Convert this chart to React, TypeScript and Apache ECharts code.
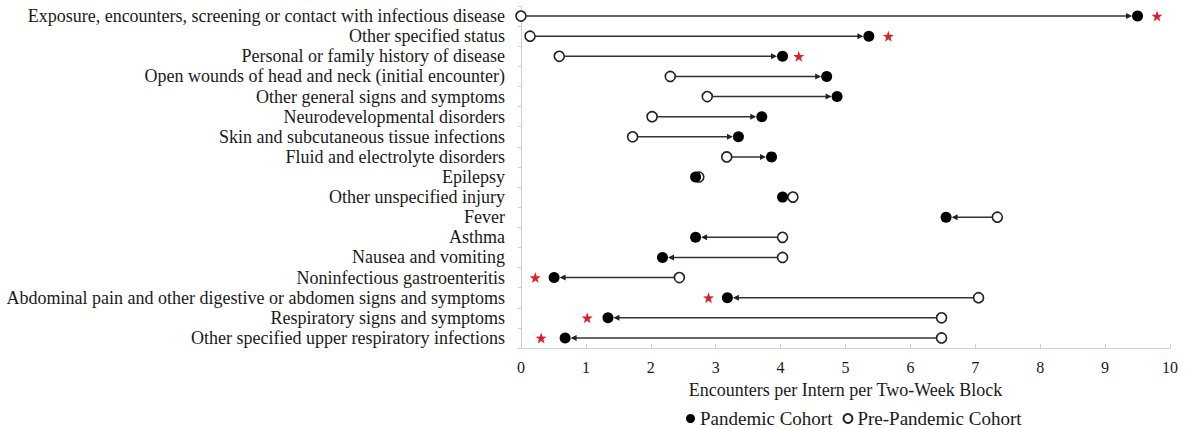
import React, { useEffect, useRef } from "react";
import * as echarts from "echarts";

const categories = [
  "Exposure, encounters, screening or contact with infectious disease",
  "Other specified status",
  "Personal or family history of disease",
  "Open wounds of head and neck (initial encounter)",
  "Other general signs and symptoms",
  "Neurodevelopmental disorders",
  "Skin and subcutaneous tissue infections",
  "Fluid and electrolyte disorders",
  "Epilepsy",
  "Other unspecified injury",
  "Fever",
  "Asthma",
  "Nausea and vomiting",
  "Noninfectious gastroenteritis",
  "Abdominal pain and other digestive or abdomen signs and symptoms",
  "Respiratory signs and symptoms",
  "Other specified upper respiratory infections",
];

const pandemic = [9.5, 5.36, 4.03, 4.71, 4.87, 3.71, 3.35, 3.86, 2.69, 4.03, 6.55, 2.69, 2.18, 0.51, 3.18, 1.34, 0.68];
const prePandemic = [0.0, 0.14, 0.59, 2.3, 2.87, 2.02, 1.72, 3.17, 2.74, 4.19, 7.34, 4.03, 4.03, 2.44, 7.05, 6.48, 6.48];

const starRows = [0, 1, 2, 13, 14, 15, 16];
const starValues = [9.8, 5.66, 4.28, 0.22, 2.89, 1.02, 0.31];

const xTicks = [0, 1, 2, 3, 4, 5, 6, 7, 8, 9, 10];

const FONT = "'Liberation Serif', 'Times New Roman', serif";
const STAR =
  "path://M0,-10 L2.35,-3.24 L9.51,-3.09 L3.8,1.24 L5.88,8.09 L0,4 L-5.88,8.09 L-3.8,1.24 L-9.51,-3.09 L-2.35,-3.24 Z";

export default function App() {
  const ref = useRef<HTMLDivElement>(null);
  useEffect(() => {
    document.body.style.margin = "0";
    const chart = echarts.init(ref.current!, null, { renderer: "svg" });
    const arrowData = categories.map((_, i) => [prePandemic[i], pandemic[i], i]);
    chart.setOption({
      animation: false,
      backgroundColor: "#ffffff",
      grid: { left: 521, right: 17, top: 6, bottom: 81, containLabel: false, outerBoundsMode: "none" },
      legend: {
        data: ["Pandemic Cohort", "Pre-Pandemic Cohort"],
        left: 686,
        top: 409,
        padding: 0,
        icon: "circle",
        itemWidth: 9,
        itemHeight: 9,
        itemGap: 10,
        textStyle: { fontFamily: FONT, fontSize: 19, color: "#1a1a1a" },
      },
      xAxis: {
        type: "value",
        min: xTicks[0],
        max: xTicks[xTicks.length - 1],
        interval: 1,
        name: "Encounters per Intern per Two-Week Block",
        nameLocation: "middle",
        nameGap: 33,
        nameTextStyle: { fontFamily: FONT, fontSize: 18, color: "#1a1a1a" },
        axisLine: { show: true, lineStyle: { color: "#d0d0d0", width: 1 } },
        axisTick: { show: true, inside: true, length: 4, lineStyle: { color: "#d0d0d0" } },
        axisLabel: { fontFamily: FONT, fontSize: 16, color: "#1a1a1a", margin: 11 },
        splitLine: { show: false },
      },
      yAxis: {
        type: "category",
        data: categories,
        inverse: true,
        axisLine: { show: true, lineStyle: { color: "#d0d0d0", width: 1 } },
        axisTick: { show: true, length: 3, lineStyle: { color: "#d0d0d0" } },
        axisLabel: { fontFamily: FONT, fontSize: 18, color: "#1a1a1a", margin: 16, interval: 0 },
        splitLine: { show: false },
      },
      series: [
        {
          type: "custom",
          name: "arrows",
          data: arrowData,
          encode: { x: [0, 1], y: 2 },
          silent: true,
          z: 1,
          renderItem: (params: any, api: any) => {
            const yi = api.value(2);
            const p0 = api.coord([api.value(0), yi]);
            const p1 = api.coord([api.value(1), yi]);
            const dx = p1[0] - p0[0];
            const dir = dx >= 0 ? 1 : -1;
            const dist = Math.abs(dx);
            const r0 = 5, r1 = 5.5;
            if (dist < r0 + r1 + 3) return { type: "group", children: [] };
            const xa = p0[0] + dir * r0;
            const xb = p1[0] - dir * r1;
            const y = p0[1];
            return {
              type: "group",
              children: [
                {
                  type: "line",
                  shape: { x1: xa, y1: y, x2: xb - dir * 2, y2: y },
                  style: { stroke: "#333", lineWidth: 1.5 },
                },
                {
                  type: "polygon",
                  shape: { points: [[xb, y], [xb - dir * 6, y - 3], [xb - dir * 6, y + 3]] },
                  style: { fill: "#222" },
                },
              ],
            };
          },
        },
        {
          type: "scatter",
          name: "Pre-Pandemic Cohort",
          data: prePandemic.map((v, i) => [v, i]),
          symbol: "circle",
          symbolSize: 10,
          z: 2,
          itemStyle: { color: "#ffffff", borderColor: "#222", borderWidth: 1.6, opacity: 1 },
        },
        {
          type: "scatter",
          name: "Pandemic Cohort",
          data: pandemic.map((v, i) => [v, i]),
          symbol: "circle",
          symbolSize: 11,
          z: 3,
          itemStyle: { color: "#000000", opacity: 1 },
        },
        {
          type: "scatter",
          name: "Significant",
          data: starValues.map((v, i) => [v, starRows[i]]),
          symbol: STAR,
          symbolSize: 11,
          z: 3,
          itemStyle: { color: "#d8232a", opacity: 1 },
        },
      ],
    });
    return () => chart.dispose();
  }, []);
  return <div ref={ref} style={{ width: 1187, height: 429 }} />;
}
